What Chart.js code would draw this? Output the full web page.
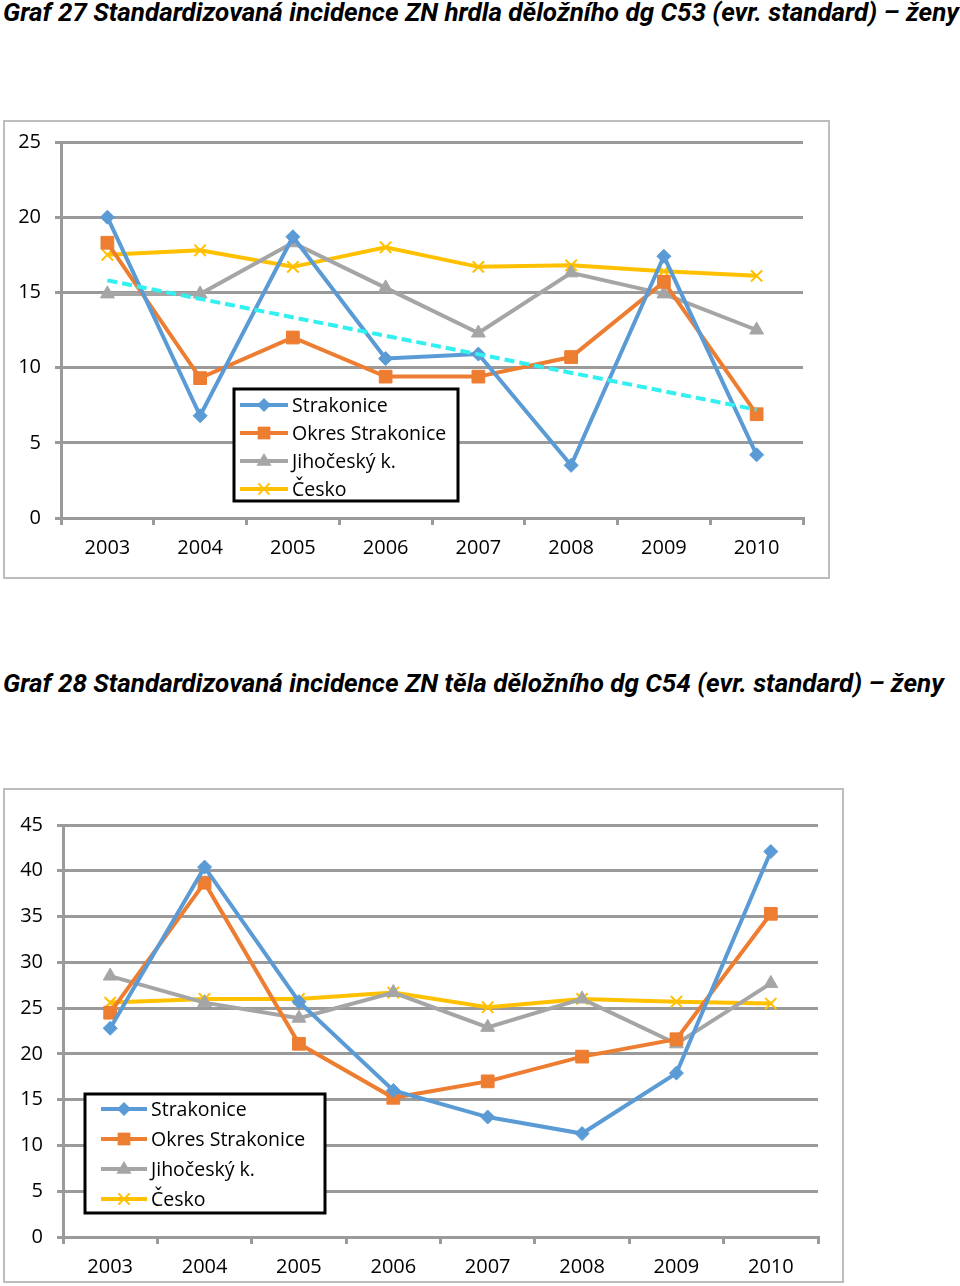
<!DOCTYPE html>
<html lang="cs">
<head>
  <meta charset="UTF-8">
  <title>Graf 27 a 28</title>
  <script src="https://cdn.jsdelivr.net/npm/chart.js"></script>
  <style>
    body {
      margin: 0;
      width: 960px;
      height: 1286px;
      background: #fff;
      position: relative;
      font-family: "Open Sans", sans-serif;
    }
    .title {
      position: absolute;
      left: 3px;
      font-family: "Liberation Sans Narrow", "Roboto", sans-serif;
      font-weight: bold;
      font-style: italic;
      font-size: 26px;
      white-space: nowrap;
      color: #000;
    }
    .box {
      position: absolute;
      border: 2px solid #bdbdbd;
      box-sizing: border-box;
      background: #fff;
    }
    .box canvas {
      position: absolute;
      left: 0;
    }
  </style>
</head>
<body>
  <div class="title" style="top:-3px">Graf 27 Standardizovaná incidence ZN hrdla děložního dg C53 (evr. standard) – ženy</div>
  <div class="box" style="left:3px; top:120px; width:827px; height:459px;">
    <canvas id="chart1" style="top:-6px"></canvas>
  </div>

  <div class="title" style="top:668px">Graf 28 Standardizovaná incidence ZN těla děložního dg C54 (evr. standard) – ženy</div>
  <div class="box" style="left:3px; top:788px; width:841px; height:495px;">
    <canvas id="chart2" style="top:0"></canvas>
  </div>

  <script>
    // years on the x axis
    const years = ['2003', '2004', '2005', '2006', '2007', '2008', '2009', '2010'];

    // Graf 27 - C53
    const c53Strakonice = [20.0, 6.8, 18.7, 10.6, 10.9, 3.5, 17.4, 4.2];
    const c53Okres = [18.3, 9.3, 12.0, 9.4, 9.4, 10.7, 15.7, 6.9];
    const c53Jihocesky = [14.9, 14.9, 18.3, 15.3, 12.3, 16.3, 14.9, 12.5];
    const c53Cesko = [17.5, 17.8, 16.7, 18.0, 16.7, 16.8, 16.4, 16.1];
    // trend line of Strakonice (start and end)
    const c53Trend = [15.8, null, null, null, null, null, null, 7.2];

    // Graf 28 - C54
    const c54Strakonice = [22.8, 40.4, 25.7, 16.0, 13.1, 11.3, 17.9, 42.1];
    const c54Okres = [24.5, 38.7, 21.1, 15.2, 17.0, 19.7, 21.6, 35.3];
    const c54Jihocesky = [28.5, 25.6, 23.9, 26.7, 22.9, 26.0, 21.1, 27.7];
    const c54Cesko = [25.6, 26.0, 26.0, 26.7, 25.1, 26.0, 25.7, 25.5];

    const seriesNames = ['Strakonice', 'Okres Strakonice', 'Jihočeský k.', 'Česko'];
    const seriesColors = ['#5b9bd5', '#ed7d31', '#a5a5a5', '#ffc000'];
    const seriesPoints = ['rectRot', 'rect', 'triangle', 'crossRot'];
    const pointRadius = [7, 9, 8, 8];

    const gridColor = '#9a9a9a';
    const tickFont = { family: 'Open Sans', size: 20 };

    function drawMarker(ctx, style, x, y, r, color) {
      ctx.save();
      ctx.fillStyle = color;
      ctx.strokeStyle = color;
      ctx.lineWidth = 2;
      ctx.beginPath();
      if (style === 'rectRot') {
        ctx.moveTo(x, y - r); ctx.lineTo(x + r, y); ctx.lineTo(x, y + r); ctx.lineTo(x - r, y);
        ctx.closePath(); ctx.fill();
      } else if (style === 'rect') {
        const s = r * Math.SQRT1_2;
        ctx.rect(x - s, y - s, 2 * s, 2 * s); ctx.fill();
      } else if (style === 'triangle') {
        ctx.moveTo(x, y - r); ctx.lineTo(x + r * 0.95, y + r * 0.6); ctx.lineTo(x - r * 0.95, y + r * 0.6);
        ctx.closePath(); ctx.fill();
      } else {
        const s = r * Math.SQRT1_2;
        ctx.moveTo(x - s, y - s); ctx.lineTo(x + s, y + s);
        ctx.moveTo(x + s, y - s); ctx.lineTo(x - s, y + s);
        ctx.stroke();
      }
      ctx.restore();
    }

    // legend drawn inside the plot with a black frame
    const boxLegend = {
      id: 'boxLegend',
      afterDraw(chart, args, opts) {
        const ctx = chart.ctx;
        ctx.save();
        ctx.fillStyle = '#fff';
        ctx.fillRect(opts.x, opts.y, opts.w, opts.h);
        ctx.strokeStyle = '#000';
        ctx.lineWidth = 3;
        ctx.strokeRect(opts.x, opts.y, opts.w, opts.h);
        ctx.font = '19.5px "Open Sans"';
        ctx.textBaseline = 'middle';
        seriesNames.forEach((name, i) => {
          const y = opts.y + opts.first + i * opts.step;
          ctx.strokeStyle = seriesColors[i];
          ctx.lineWidth = 4;
          ctx.beginPath();
          ctx.moveTo(opts.x + opts.lineFrom, y);
          ctx.lineTo(opts.x + opts.lineFrom + opts.lineLen, y);
          ctx.stroke();
          drawMarker(ctx, seriesPoints[i], opts.x + opts.lineFrom + opts.lineLen / 2, y, pointRadius[i], seriesColors[i]);
          ctx.fillStyle = '#000';
          ctx.fillText(name, opts.x + opts.textX, y + 1);
        });
        ctx.restore();
      }
    };

    function makeDatasets(values) {
      return values.map((v, i) => ({
        label: seriesNames[i],
        data: v,
        borderColor: seriesColors[i],
        backgroundColor: seriesColors[i],
        pointBackgroundColor: seriesColors[i],
        pointBorderColor: seriesColors[i],
        pointStyle: seriesPoints[i],
        pointRadius: pointRadius[i],
        pointBorderWidth: seriesPoints[i] === 'crossRot' ? 2 : 1,
        borderWidth: 4,
        tension: 0
      }));
    }

    function makeChart(id, datasets, yMax, width, height, pad, yWidth, legend) {
      const cv = document.getElementById(id);
      cv.width = width;
      cv.height = height;
      return new Chart(cv, {
        type: 'line',
        data: { labels: years, datasets: datasets },
        options: {
          responsive: false,
          animation: false,
          layout: { padding: pad },
          plugins: {
            legend: { display: false },
            tooltip: { enabled: false },
            boxLegend: legend
          },
          scales: {
            x: {
              offset: true,
              grid: {
                offset: true,
                drawOnChartArea: false,
                drawTicks: true,
                tickLength: 7,
                color: gridColor,
                lineWidth: 3
              },
              border: { display: true, color: gridColor, width: 3 },
              ticks: { color: '#000', font: tickFont, padding: 11 },
              afterFit(scale) { scale.height = pad.xHeight; }
            },
            y: {
              min: 0,
              max: yMax,
              grid: { color: gridColor, lineWidth: 3, tickLength: 6 },
              border: { display: true, color: gridColor, width: 3 },
              ticks: { stepSize: 5, color: '#000', font: tickFont, padding: 14 },
              afterFit(scale) { scale.width = yWidth; }
            }
          }
        },
        plugins: [boxLegend]
      });
    }

    const ds1 = makeDatasets([c53Strakonice, c53Okres, c53Jihocesky, c53Cesko]);
    ds1.push({
      label: 'trend',
      data: c53Trend,
      borderColor: '#33f0f0',
      borderWidth: 4,
      borderDash: [10, 5],
      pointRadius: 0,
      spanGaps: true
    });
    // trend drawn above other lines
    ds1[4].order = -1;

    makeChart('chart1', ds1, 25, 823, 462,
      { left: 0, top: 21, right: 25, bottom: 0, xHeight: 60 }, 56,
      { x: 229, y: 273, w: 224, h: 112, first: 16, step: 28, lineFrom: 6, lineLen: 48, textX: 58 });

    makeChart('chart2', makeDatasets([c54Strakonice, c54Okres, c54Jihocesky, c54Cesko]), 45, 837, 491,
      { left: 0, top: 35, right: 24, bottom: 0, xHeight: 44 }, 58,
      { x: 80, y: 304, w: 240, h: 119, first: 15, step: 30, lineFrom: 16, lineLen: 46, textX: 66 });
  </script>
</body>
</html>
